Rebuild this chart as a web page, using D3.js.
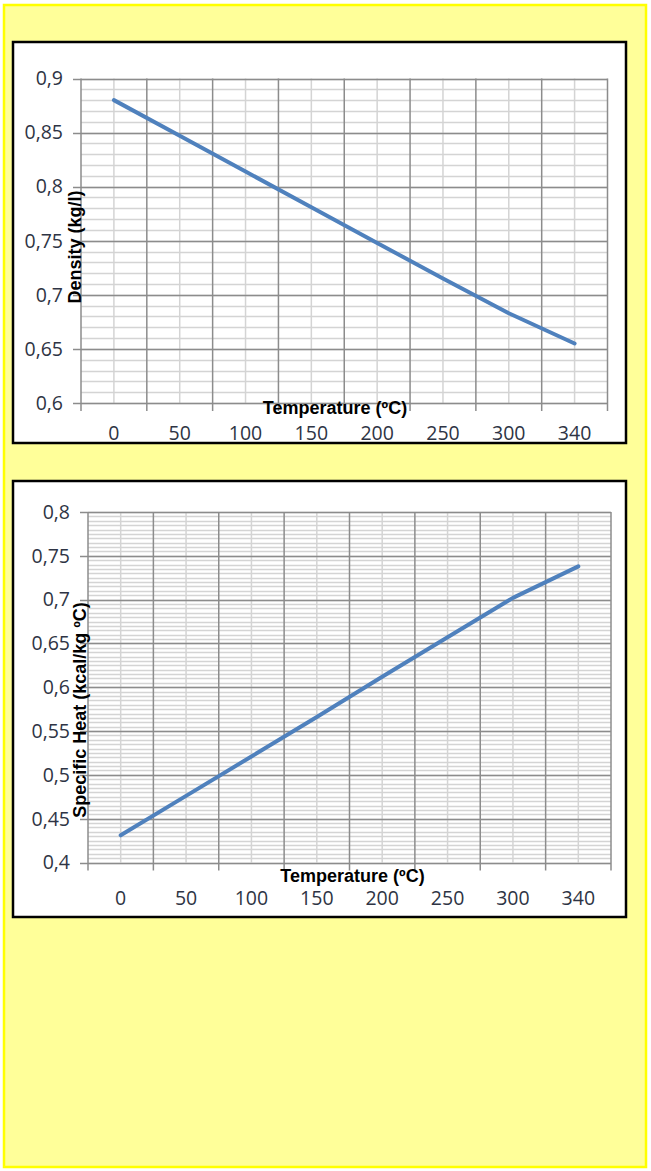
<!DOCTYPE html>
<html>
<head>
<meta charset="utf-8">
<script src="https://cdn.jsdelivr.net/npm/d3@7"></script>
<style>
  body { margin: 0; background: #fff; }
  .tick-label { font-family: "Open Sans", sans-serif; font-size: 19.5px; fill: #2e3444; }
  .axis-title { font-family: "Liberation Sans", Arial, sans-serif; font-size: 18px; font-weight: bold; fill: #000; }
</style>
</head>
<body>
<div id="chart"></div>
<script>
// data
const temps = ["0", "50", "100", "150", "200", "250", "300", "340"];
const density = [0.88, 0.847, 0.814, 0.781, 0.748, 0.715, 0.683, 0.655];
const specificHeat = [0.431, 0.476, 0.521, 0.566, 0.612, 0.657, 0.702, 0.738];
const densityTicks = [0.6, 0.65, 0.7, 0.75, 0.8, 0.85, 0.9];
const heatTicks = [0.4, 0.45, 0.5, 0.55, 0.6, 0.65, 0.7, 0.75, 0.8];

const W = 651, H = 1171;
const comma = d3.formatLocale({ decimal: ",", thousands: ".", grouping: [3], currency: ["", "€"] });
const fmt = comma.format(".2~f");

const svg = d3.select("#chart").append("svg")
    .attr("width", W)
    .attr("height", H);

// yellow page
svg.append("rect")
    .attr("x", 4).attr("y", 5)
    .attr("width", 642).attr("height", 1162)
    .attr("fill", "#ffff99")
    .attr("stroke", "#ffff00")
    .attr("stroke-width", 2.5);

function drawChart(cfg) {
    const g = svg.append("g");

    // chart box
    g.append("rect")
        .attr("x", cfg.box[0]).attr("y", cfg.box[1])
        .attr("width", cfg.box[2]).attr("height", cfg.box[3])
        .attr("fill", "#fff")
        .attr("stroke", "#000")
        .attr("stroke-width", 2.5);

    const x = d3.scaleBand()
        .domain(temps)
        .range([cfg.left, cfg.right])
        .padding(0);

    const y = d3.scaleLinear()
        .domain(cfg.domain)
        .range([cfg.bottom, cfg.top]);

    // minor horizontal grid
    const minor = d3.range(cfg.domain[0], cfg.domain[1] + 1e-9, cfg.minorStep);
    g.append("g").selectAll("line")
        .data(minor)
        .enter()
        .append("line")
        .attr("x1", cfg.left).attr("x2", cfg.right)
        .attr("y1", d => Math.round(y(d)) + 0.5)
        .attr("y2", d => Math.round(y(d)) + 0.5)
        .attr("stroke", "#d4d4d4")
        .attr("stroke-width", 1.5);

    // minor vertical grid at category centres
    g.append("g").selectAll("line")
        .data(temps)
        .enter()
        .append("line")
        .attr("x1", d => x(d) + x.bandwidth() / 2)
        .attr("x2", d => x(d) + x.bandwidth() / 2)
        .attr("y1", cfg.top).attr("y2", cfg.bottom)
        .attr("stroke", "#d4d4d4")
        .attr("stroke-width", 1.5);

    // major horizontal grid + ticks
    g.append("g").selectAll("line")
        .data(cfg.ticks)
        .enter()
        .append("line")
        .attr("x1", cfg.left - 8).attr("x2", cfg.right)
        .attr("y1", d => Math.round(y(d)) + 0.5)
        .attr("y2", d => Math.round(y(d)) + 0.5)
        .attr("stroke", "#8c8c8c")
        .attr("stroke-width", 1.5);

    // major vertical grid at category boundaries
    const bounds = temps.map(d => x(d)).concat([cfg.right]);
    g.append("g").selectAll("line")
        .data(bounds)
        .enter()
        .append("line")
        .attr("x1", d => d).attr("x2", d => d)
        .attr("y1", cfg.top).attr("y2", cfg.bottom + 8)
        .attr("stroke", "#8c8c8c")
        .attr("stroke-width", 1.5);

    // y tick labels
    g.append("g").selectAll("text")
        .data(cfg.ticks)
        .enter()
        .append("text")
        .attr("class", "tick-label")
        .attr("x", cfg.left - 18)
        .attr("y", d => y(d))
        .attr("dy", "0.35em")
        .attr("text-anchor", "end")
        .text(d => fmt(d));

    // x tick labels
    g.append("g").selectAll("text")
        .data(temps)
        .enter()
        .append("text")
        .attr("class", "tick-label")
        .attr("x", d => x(d) + x.bandwidth() / 2)
        .attr("y", cfg.xLabelY)
        .attr("dy", "0.35em")
        .attr("text-anchor", "middle")
        .text(d => d);

    // the line
    const line = d3.line()
        .x((d, i) => x(temps[i]) + x.bandwidth() / 2)
        .y(d => y(d));
    g.append("path")
        .datum(cfg.values)
        .attr("d", line)
        .attr("fill", "none")
        .attr("stroke", "#4f81bd")
        .attr("stroke-width", 4)
        .attr("stroke-linecap", "round")
        .attr("stroke-linejoin", "round");

    // axis titles
    g.append("text")
        .attr("class", "axis-title")
        .attr("x", cfg.xTitle[0]).attr("y", cfg.xTitle[1])
        .attr("text-anchor", "middle")
        .text("Temperature (ºC)");

    g.append("text")
        .attr("class", "axis-title")
        .attr("transform", "translate(" + cfg.yTitle[0] + "," + cfg.yTitle[1] + ")rotate(-90)")
        .attr("text-anchor", "middle")
        .text(cfg.yLabel);
}

drawChart({
    box: [13, 42, 613, 401],
    left: 81, right: 607.5, top: 78.5, bottom: 403,
    domain: [0.6, 0.9], ticks: densityTicks, minorStep: 0.01,
    values: density,
    xLabelY: 433,
    xTitle: [335, 414],
    yTitle: [81, 247],
    yLabel: "Density (kg/l)"
});

drawChart({
    box: [13, 481, 613, 436],
    left: 88, right: 611, top: 512, bottom: 862.5,
    domain: [0.4, 0.8], ticks: heatTicks, minorStep: 0.005,
    values: specificHeat,
    xLabelY: 898,
    xTitle: [352.5, 882],
    yTitle: [86, 710],
    yLabel: "Specific Heat (kcal/kg ºC)"
});
</script>
</body>
</html>
